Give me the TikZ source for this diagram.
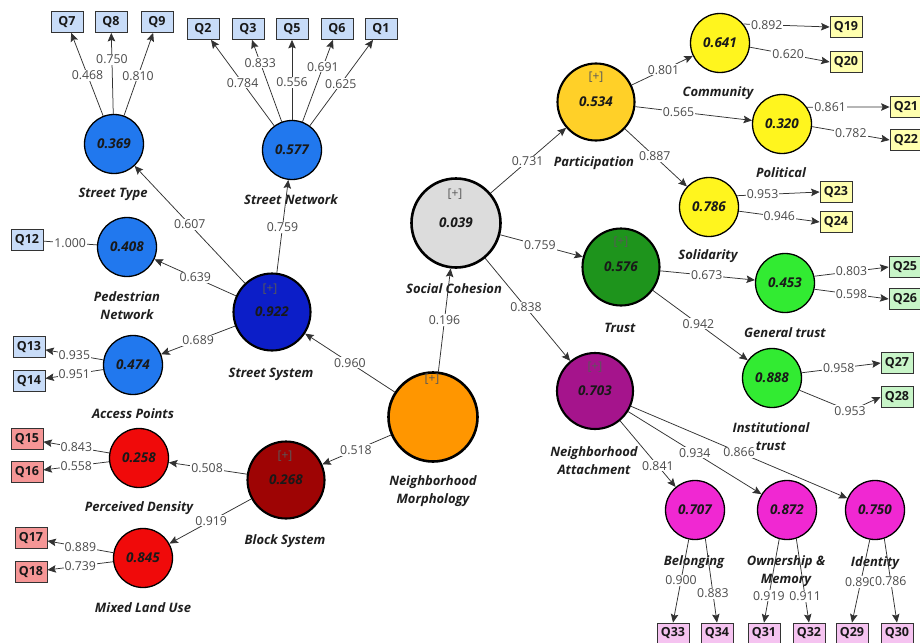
\documentclass[tikz,border=0pt]{standalone}
\usepackage{fontspec}
\setmainfont{Open Sans}
\usetikzlibrary{arrows.meta}
\definecolor{cBlue}{RGB}{33,120,238}
\definecolor{cNavy}{RGB}{12,30,200}
\definecolor{cRed}{RGB}{240,10,10}
\definecolor{cDarkRed}{RGB}{158,4,4}
\definecolor{cOrange}{RGB}{255,150,0}
\definecolor{cGrey}{RGB}{220,220,220}
\definecolor{cGold}{RGB}{255,208,40}
\definecolor{cYellow}{RGB}{255,245,30}
\definecolor{cGreen}{RGB}{30,148,28}
\definecolor{cLime}{RGB}{50,235,50}
\definecolor{cPurple}{RGB}{165,20,140}
\definecolor{cMagenta}{RGB}{240,40,210}
\definecolor{bBlue}{RGB}{200,220,248}
\definecolor{bRed}{RGB}{245,150,150}
\definecolor{bYellow}{RGB}{255,255,175}
\definecolor{bGreen}{RGB}{200,245,200}
\definecolor{bPink}{RGB}{245,195,240}
\definecolor{lineGrey}{RGB}{50,50,50}
\definecolor{numGrey}{RGB}{75,75,75}
\newcommand\mynamefont{\fontsize{13}{18}\selectfont\bfseries\itshape}
\newcommand\myvalfont{\fontsize{13.5}{15}\selectfont\bfseries\itshape}
\newcommand\mynumfont{\fontsize{12.3}{14}\selectfont}
\newcommand\myboxfont{\fontsize{12.5}{14}\selectfont\bfseries}
\begin{document}
\begin{tikzpicture}[x=1pt,y=-1pt,
  lv/.style={circle,draw=black,line width=1.3pt,minimum size=59pt,inner sep=0pt,font=\myvalfont,text=black!90},
  hv/.style={lv,line width=2.1pt,minimum size=77pt},
  bigv/.style={lv,line width=2.6pt,minimum size=89pt},
  ind/.style={draw=black!80,line width=0.8pt,minimum width=32pt,minimum height=21pt,inner sep=1pt,font=\myboxfont,text=black!90},
  lbl/.style={fill=white,inner sep=1pt,font=\mynumfont,text=numGrey},
  arr/.style={draw=lineGrey,line width=0.75pt,-{Stealth[length=8.5pt,width=7.5pt,inset=1.5pt]}},
  plain/.style={draw=lineGrey,line width=0.75pt},
  nm/.style={font=\mynamefont,align=center,text=black!88},
  plus/.style={font=\fontsize{12}{14}\selectfont,text=black!65}
]
\useasboundingbox (0,0) rectangle (920,642);
\fill[white] (0,0) rectangle (920,642);

% ---- constructs ----
\node[lv,fill=cBlue] (st) at (114,144) {0.369};
\node[lv,fill=cBlue] (sn) at (292,150) {0.577};
\node[lv,fill=cBlue] (pn) at (127,247) {0.408};
\node[lv,fill=cBlue] (ap) at (133,365) {0.474};
\node[hv,fill=cNavy] (ss) at (272,312) {0.922};
\node[lv,fill=cRed] (pd) at (139,458) {0.258};
\node[lv,fill=cRed] (ml) at (143,558) {0.845};
\node[hv,fill=cDarkRed] (bs) at (286,480) {0.268};
\node[bigv,fill=cOrange] (nmo) at (433,417) {};
\node[bigv,fill=cGrey] (sc) at (456,223) {0.039};
\node[hv,fill=cGold] (pa) at (596,102) {0.534};
\node[lv,fill=cYellow] (co) at (720,43) {0.641};
\node[lv,fill=cYellow] (po) at (782,124) {0.320};
\node[lv,fill=cYellow] (so) at (709,207) {0.786};
\node[hv,fill=cGreen] (tr) at (621,267) {0.576};
\node[lv,fill=cLime] (gt) at (785,283) {0.453};
\node[lv,fill=cLime] (it) at (772,378) {0.888};
\node[hv,minimum size=76pt,fill=cPurple] (na) at (595,391) {0.703};
\node[lv,fill=cMagenta] (be) at (695,510) {0.707};
\node[lv,fill=cMagenta] (ow) at (787,510) {0.872};
\node[lv,fill=cMagenta] (id) at (875,510) {0.750};

% ---- [+] markers ----
\node[plus] (ssp) at (270,289) {[+]};
\node[plus] (bsp) at (285,456) {[+]};
\node[plus] (nmp) at (432,379) {[+]};
\node[plus] (scp) at (455,194) {[+]};
\node[plus] (pap) at (596,77) {[+]};
\node[plus] (trp) at (621,242) {[+]};
\node[plus] (nap) at (595,367) {[+]};

% ---- names ----
\node[nm] (stl) at (113,194) {Street Type};
\node[nm] (snl) at (291,200) {Street Network};
\node[nm] (pnl) at (127,306) {Pedestrian\\Network};
\node[nm] (apl) at (133,414) {Access Points};
\node[nm] (pdl) at (139,508) {Perceived Density};
\node[nm] (mll) at (143,608) {Mixed Land Use};
\node[nm] (ssl) at (271,374) {Street System};
\node[nm] (bsl) at (285,541) {Block System};
\node[nm] (nml) at (433,491) {Neighborhood\\Morphology};
\node[nm] (scl) at (454,289) {Social Cohesion};
\node[nm] (pal) at (594,163) {Participation};
\node[nm] (col) at (718,93) {Community};
\node[nm] (pol) at (781,173) {Political};
\node[nm] (sol) at (708,256) {Solidarity};
\node[nm] (trl) at (620,328) {Trust};
\node[nm] (gtl) at (785,333) {General trust};
\node[nm] (itl) at (771,437) {Institutional\\trust};
\node[nm] (nal) at (594,461) {Neighborhood\\Attachment};
\node[nm] (bel) at (694,562) {Belonging};
\node[nm] (owl) at (786,571) {Ownership \&\\Memory};
\node[nm] (idl) at (875,563) {Identity};

% ---- indicators ----
\node[ind,fill=bBlue] (q7) at (67,22) {Q7};
\node[ind,fill=bBlue] (q8) at (111,22) {Q8};
\node[ind,fill=bBlue] (q9) at (157,22) {Q9};
\node[ind,fill=bBlue] (q2) at (203,29) {Q2};
\node[ind,fill=bBlue] (q3) at (248,29) {Q3};
\node[ind,fill=bBlue] (q5) at (292,29) {Q5};
\node[ind,fill=bBlue] (q6) at (337,29) {Q6};
\node[ind,fill=bBlue] (q1) at (381,29) {Q1};
\node[ind,fill=bBlue] (q12) at (27,240) {Q12};
\node[ind,fill=bBlue] (q13) at (29,347) {Q13};
\node[ind,fill=bBlue] (q14) at (29,381) {Q14};
\node[ind,fill=bRed] (q15) at (27,439) {Q15};
\node[ind,fill=bRed] (q16) at (27,472) {Q16};
\node[ind,fill=bRed] (q17) at (31,538) {Q17};
\node[ind,fill=bRed] (q18) at (31,572) {Q18};
\node[ind,fill=bYellow] (q19) at (846,27) {Q19};
\node[ind,fill=bYellow] (q20) at (846,62) {Q20};
\node[ind,fill=bYellow] (q21) at (906,107) {Q21};
\node[ind,fill=bYellow] (q22) at (906,140) {Q22};
\node[ind,fill=bYellow] (q23) at (836,192) {Q23};
\node[ind,fill=bYellow] (q24) at (836,222) {Q24};
\node[ind,fill=bGreen] (q25) at (905,267) {Q25};
\node[ind,fill=bGreen] (q26) at (905,299) {Q26};
\node[ind,fill=bGreen] (q27) at (897,363) {Q27};
\node[ind,fill=bGreen] (q28) at (897,397) {Q28};
\node[ind,fill=bPink] (q33) at (673,633.5) {Q33};
\node[ind,fill=bPink] (q34) at (717,633.5) {Q34};
\node[ind,fill=bPink] (q31) at (764,633.5) {Q31};
\node[ind,fill=bPink] (q32) at (809,633.5) {Q32};
\node[ind,fill=bPink] (q29) at (852,633.5) {Q29};
\node[ind,fill=bPink] (q30) at (897,633.5) {Q30};
\coordinate (b28) at (850,411);

% ---- structural paths ----
\draw[arr] (nmo) -- node[lbl,pos=0.5]{0.960} (ss);
\draw[arr] (nmo) -- node[lbl,pos=0.51]{0.518} (bs);
\draw[arr] (nmo) -- node[lbl,pos=0.5]{0.196} (sc);
\draw[arr] (ss) -- node[lbl,pos=0.5]{0.607} (st);
\draw[arr] (ss) -- node[lbl,pos=0.49]{0.759} (sn);
\draw[arr] (ss) -- node[lbl,pos=0.5]{0.639} (pn);
\draw[arr] (ss) -- node[lbl,pos=0.5]{0.689} (ap);
\draw[arr] (bs) -- node[lbl,pos=0.51]{0.508} (pd);
\draw[arr] (bs) -- node[lbl,pos=0.49]{0.919} (ml);
\draw[arr] (sc) -- node[lbl,pos=0.49]{0.731} (pa);
\draw[arr] (sc) -- node[lbl,pos=0.48]{0.759} (tr);
\draw[arr] (sc) -- node[lbl,pos=0.48]{0.838} (na);
\draw[arr] (pa) -- node[lbl,pos=0.52]{0.801} (co);
\draw[arr] (pa) -- node[lbl,pos=0.37]{0.565} (po);
\draw[arr] (pa) -- node[lbl,pos=0.48]{0.887} (so);
\draw[arr] (tr) -- node[lbl,pos=0.49]{0.673} (gt);
\draw[arr] (tr) -- node[lbl,pos=0.48]{0.942} (it);
\draw[arr] (na) -- node[lbl,pos=0.68]{0.841} (be);
\draw[arr] (na) -- node[lbl,pos=0.5]{0.934} (ow);
\draw[arr] (na) -- node[lbl,pos=0.5]{0.866} (id);

% ---- outer loadings ----
\draw[arr] (st) -- node[lbl,pos=0.49]{0.468} (q7);
\draw[arr] (st) -- node[lbl,pos=0.67]{0.750} (q8);
\draw[arr] (st) -- node[lbl,pos=0.48]{0.810} (q9);
\draw[arr] (sn) -- node[lbl,pos=0.5]{0.784} (q2);
\draw[arr] (sn) -- node[lbl,pos=0.72]{0.833} (q3);
\draw[arr] (sn) -- node[lbl,pos=0.47]{0.556} (q5);
\draw[arr] (sn) -- node[lbl,pos=0.67]{0.691} (q6);
\draw[arr] (sn) -- node[lbl,pos=0.49]{0.625} (q1);
\draw[plain] (pn) -- node[lbl,pos=0.5]{1.000} (q12);
\draw[arr] (ap) -- node[lbl,pos=0.5]{0.935} (q13);
\draw[arr] (ap) -- node[lbl,pos=0.5]{0.951} (q14);
\draw[arr] (pd) -- node[lbl,pos=0.5]{0.843} (q15);
\draw[arr] (pd) -- node[lbl,pos=0.5]{0.558} (q16);
\draw[arr] (ml) -- node[lbl,pos=0.5]{0.889} (q17);
\draw[arr] (ml) -- node[lbl,pos=0.5]{0.739} (q18);
\draw[arr] (co.39) -- node[lbl,pos=0.27]{0.892} (q19.west);
\draw[arr] (co.-8) -- node[lbl,pos=0.48]{0.620} (q20.west);
\draw[arr] (po.34) -- node[lbl,pos=0.28]{0.861} (q21.west);
\draw[arr] (po.-5) -- node[lbl,pos=0.5]{0.782} (q22.west);
\draw[arr] (so.22) -- node[lbl,pos=0.31]{0.953} (q23.west);
\draw[arr] (so.-8) -- node[lbl,pos=0.5]{0.946} (q24.west);
\draw[arr] (gt.13) -- node[lbl,pos=0.5]{0.803} (q25.west);
\draw[arr] (gt.-12) -- node[lbl,pos=0.5]{0.598} (q26.west);
\draw[arr] (it.10) -- node[lbl,pos=0.47]{0.958} (q27.west);
\draw[arr] (it.-24) -- (b28) node[lbl]{0.953} -- (q28.west);
\draw[arr] (be.-102) -- node[lbl,pos=0.49]{0.900} (q33.north);
\draw[arr] (be.-70) -- node[lbl,pos=0.65]{0.883} (q34.north);
\draw[arr] (ow.-105) -- node[lbl,pos=0.68]{0.919} (q31.north);
\draw[arr] (ow.-72) -- node[lbl,pos=0.69]{0.911} (q32.north);
\draw[arr] (id.-100) -- node[lbl,pos=0.51]{0.890} (q29.north);
\draw[arr] (id.-72) -- node[lbl,pos=0.51]{0.786} (q30.north);
\end{tikzpicture}
\end{document}
